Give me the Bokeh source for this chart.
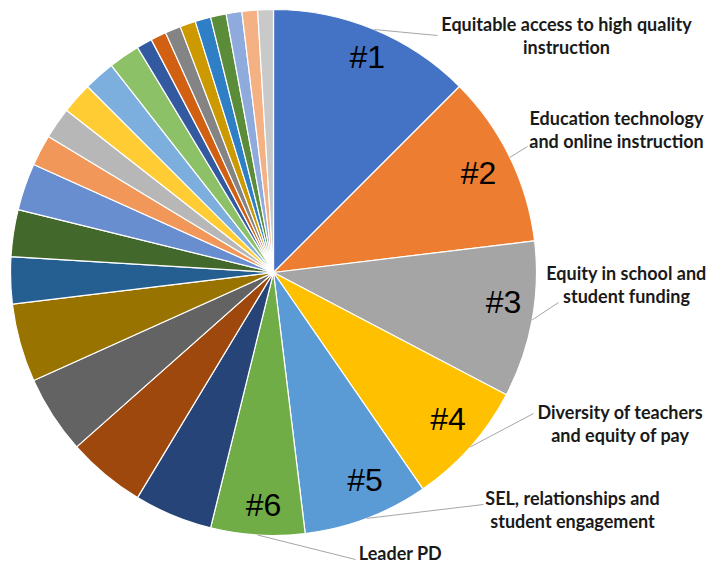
import numpy as np
from bokeh.plotting import figure
from bokeh.models import Range1d, ColumnDataSource
from bokeh.core.properties import value
from bokeh.embed import file_html
from bokeh.resources import INLINE

# ---------------- data ----------------
categories = [
    "Equitable access to high quality instruction",
    "Education technology and online instruction",
    "Equity in school and student funding",
    "Diversity of teachers and equity of pay",
    "SEL, relationships and student engagement",
    "Leader PD",
] + [f"Topic {i}" for i in range(7, 28)]
values = [13, 11, 10, 8, 8, 6, 5, 5, 5, 5, 3, 3, 3, 2, 2, 2, 2, 2,
          1, 1, 1, 1, 1, 1, 1, 1, 1]
rank_labels = ["#1", "#2", "#3", "#4", "#5", "#6"]
callout_lines = [
    ["Equitable access to high quality", "instruction"],
    ["Education technology", "and online instruction"],
    ["Equity in school and", "student funding"],
    ["Diversity of teachers", "and equity of pay"],
    ["SEL, relationships and", "student engagement"],
    ["Leader PD"],
]
colors = [
    "#4472C4", "#ED7D31", "#A5A5A5", "#FFC000", "#5B9BD5", "#70AD47",
    "#264478", "#9E480E", "#636363", "#997300", "#255E91", "#43682B",
    "#698ED0", "#F1975A", "#B7B7B7", "#FFCD33", "#7CAFDD", "#8CC168",
    "#335AA1", "#D26012", "#848484", "#CC9A00", "#2F7FC6", "#5A8C3A",
    "#8FAADC", "#F4B183", "#C9C9C9",
]

# ---------------- layout ----------------
W, H = 709, 565
CX, CY, R = 273, H - 272, 263
# callout text anchors (x centre, first-line y in page px) and leader ends
callout_anchor = [(566, 23), (616, 117), (626, 272), (620, 411), (572, 497), (400, 552)]
leader_end = [(437, 35), (527, 146), (558, 302), (533, 413), (483, 504), (355, 559)]
line_gap = 23.5
inner_radius = [235, 228, 232, 228, 227, 233]
inner_nudge_deg = [1.0, 0.0, -3.0, -1.5, -3.0, -1.0]

vals = np.array(values, dtype=float)
frac = vals / vals.sum()
cum_end = np.cumsum(frac) * 2 * np.pi
cum_start = cum_end - frac * 2 * np.pi
mid = (cum_start + cum_end) / 2  # clockwise from 12 o'clock

src = ColumnDataSource(dict(
    category=categories, value=values, color=colors,
    start=np.pi / 2 - cum_end, end=np.pi / 2 - cum_start,
))

p = figure(width=W, height=H, x_range=Range1d(0, W), y_range=Range1d(0, H),
           output_backend="svg", toolbar_location=None, min_border=0,
           outline_line_color=None, background_fill_color="white")
p.axis.visible = False
p.xgrid.visible = False
p.ygrid.visible = False

p.wedge(x=CX, y=CY, radius=R, start_angle="start", end_angle="end",
        direction="anticlock", fill_color="color", line_color="white",
        line_width=1.2, source=src)

# leader lines from slice edge at mid-angle to callout text
for i in range(len(callout_lines)):
    sx = CX + R * np.sin(mid[i])
    sy = CY + R * np.cos(mid[i])
    ex, ey = leader_end[i]
    p.line([sx, ex], [sy, H - ey], line_color="#A6A6A6", line_width=1)

# callout texts
tx, ty, tt = [], [], []
for i, lines in enumerate(callout_lines):
    ax, ay = callout_anchor[i]
    for k, s in enumerate(lines):
        tx.append(ax)
        ty.append(H - (ay + k * line_gap))
        tt.append(s)
p.text(x=tx, y=ty, text=tt, text_font=value("Lato"), text_font_style="bold",
       text_font_size="18px", text_color="#1A1A1A", text_align="center",
       text_baseline="alphabetic")

# rank labels inside slices
rx, ry = [], []
for i in range(len(rank_labels)):
    a = mid[i] + np.deg2rad(inner_nudge_deg[i])
    r = inner_radius[i]
    rx.append(CX + r * np.sin(a))
    ry.append(CY + r * np.cos(a))
p.text(x=rx, y=ry, text=rank_labels, text_font=value("Liberation Sans"),
       text_font_size="32px", text_color="#000000", text_align="center",
       text_baseline="alphabetic")

open("out.html", "w").write(file_html(p, INLINE))
